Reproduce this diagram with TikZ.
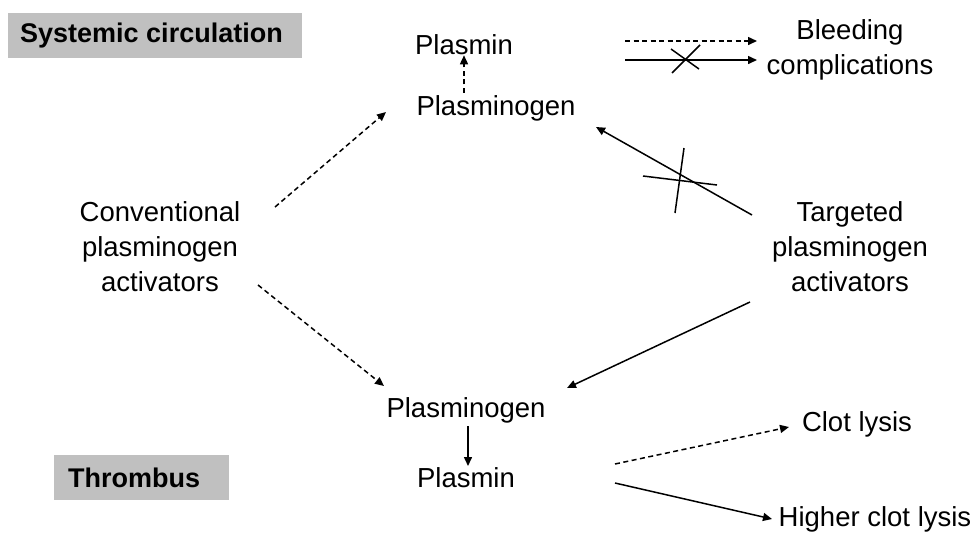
\documentclass[tikz,border=0pt]{standalone}
\usepackage{fontspec}
\setmainfont{Liberation Sans}
\usetikzlibrary{arrows.meta}
\definecolor{boxgray}{HTML}{C0C0C0}
\begin{document}
\begin{tikzpicture}[x=1pt,y=-1pt,
  lbl/.style={font=\fontsize{27.5}{35}\selectfont, inner sep=0pt, align=center},
  region/.style={font=\fontsize{27}{30}\selectfont\bfseries, inner sep=0pt, anchor=west},
  flow/.style={line width=1.5pt, -{Triangle[length=9pt,width=8pt]}},
  dflow/.style={flow, dash pattern=on 5pt off 3.5pt},
  barline/.style={line width=1.5pt}]
\useasboundingbox (0,0) rectangle (973,539);
% region labels on grey bands
\fill[boxgray] (8,13) rectangle (302,58);
\node[region] (sys) at (20,36) {Systemic circulation};
\fill[boxgray] (54,455) rectangle (229,500);
\node[region] (thr) at (68,478) {Thrombus};
% nodes
\node[lbl] (pl1) at (464,45) {Plasmin};
\node[lbl] (pg1) at (496,108) {Plasminogen};
\node[lbl] (bl) at (850,50) {Bleeding\\complications};
\node[lbl] (conv) at (160,247) {Conventional\\plasminogen\\activators};
\node[lbl] (targ) at (850,247) {Targeted\\plasminogen\\activators};
\node[lbl] (pg2) at (466,410) {Plasminogen};
\node[lbl] (pl2) at (466,478) {Plasmin};
\node[lbl] (cl) at (857,424) {Clot lysis};
\node[lbl] (hcl) at (875,519) {Higher clot lysis};
% free ends of the connectors
\coordinate (a1) at (625,41);
\coordinate (a2) at (757,41);
\coordinate (b1) at (625,60);
\coordinate (b2) at (757,60);
\coordinate (c1) at (275,207);
\coordinate (c2) at (386,112);
\coordinate (d1) at (752,215);
\coordinate (d2) at (596,127);
\coordinate (e1) at (258,285);
\coordinate (e2) at (384,386);
\coordinate (f1) at (750,302);
\coordinate (f2) at (567,388);
\coordinate (g1) at (615,464);
\coordinate (g2) at (789,427);
\coordinate (h1) at (615,483);
\coordinate (h2) at (772,519);
% connectors
\draw[dflow] (pg1.north -| pl1) ++(0,-2) -- (pl1.south);
\draw[dflow] (a1) -- (a2);
\draw[flow] (b1) -- (b2);
\draw[barline] (672,73) -- (700,45);
\draw[barline] (671,49) -- (699,69);
\draw[dflow] (c1) -- (c2);
\draw[flow] (d1) -- (d2);
\draw[barline] (643,176) -- (717,185);
\draw[barline] (684,148) -- (675,213);
\draw[dflow] (e1) -- (e2);
\draw[flow] (f1) -- (f2);
\draw[flow] (468,426) -- (468,466);
\draw[dflow] (g1) -- (g2);
\draw[flow] (h1) -- (h2);
\end{tikzpicture}
\end{document}
